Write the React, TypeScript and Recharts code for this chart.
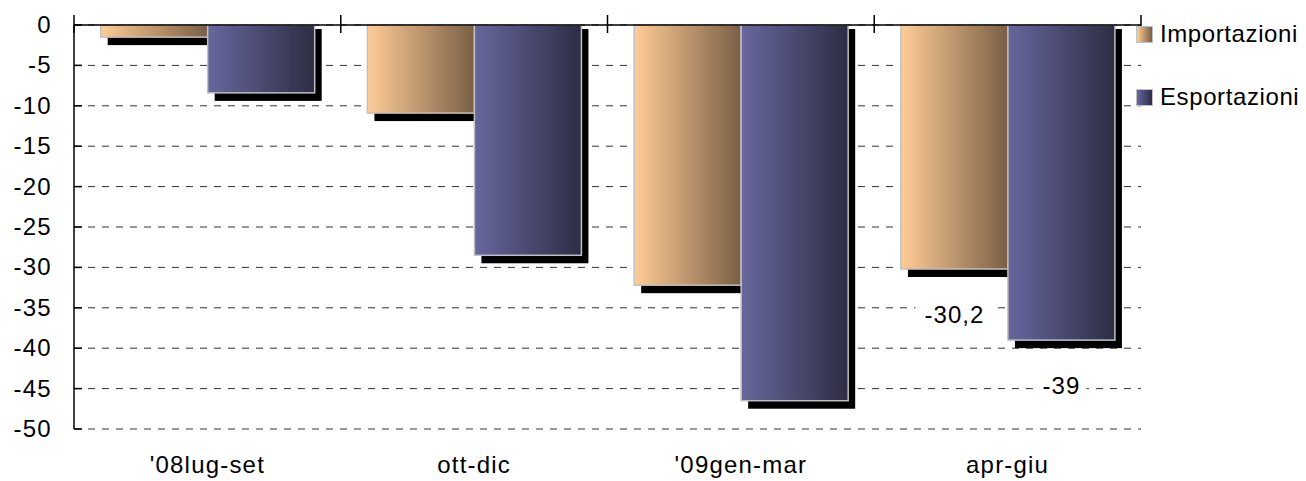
import { BarChart, Bar, XAxis, YAxis, CartesianGrid, LabelList } from 'recharts';

const categories = ["'08lug-set", 'ott-dic', "'09gen-mar", 'apr-giu'];
const importazioni = [-1.5, -10.9, -32.2, -30.2];
const esportazioni = [-8.4, -28.5, -46.5, -39];
const yTicks = [0, -5, -10, -15, -20, -25, -30, -35, -40, -45, -50];
const labelledIndex = 3;

const seriesNames = ['Importazioni', 'Esportazioni'];
const seriesColors = [
  ['#FFCC96', '#7A5F45'],
  ['#67679E', '#2D2D44'],
];

const FONT = '"Liberation Sans", Arial, sans-serif';

const data = categories.map((name, i) => ({
  name,
  imp: importazioni[i],
  exp: esportazioni[i],
}));

function ShadowBar(props: any) {
  const { x, y, width, height, fill } = props;
  const top = Math.min(y, y + height);
  const h = Math.abs(height);
  return (
    <g>
      <rect x={x + 7} y={top + 4} width={width} height={h + 4} fill="#000" />
      <rect x={x} y={top} width={width} height={h} fill={fill} stroke="#C0C0C0" strokeWidth={1.5} />
    </g>
  );
}

function ValueLabel(props: any) {
  const { x, y, width, height, value, index } = props;
  if (index !== labelledIndex) return null;
  const bottom = Math.max(y, y + height);
  const cx = x + width / 2;
  const cy = bottom + 46;
  const text = String(value).replace('.', ',');
  const w = text.length * 14 + 8;
  return (
    <g>
      <rect x={cx - w / 2} y={cy - 14} width={w} height={28} fill="#fff" />
      <text x={cx} y={cy + 8} textAnchor="middle" fontSize={24} fontFamily={FONT} letterSpacing={1} fill="#000">
        {text}
      </text>
    </g>
  );
}

function YTick(props: any) {
  const { x, y, payload } = props;
  return (
    <g>
      <line x1={x} x2={x + 8} y1={y} y2={y} stroke="#000" strokeWidth={1.5} />
      <text x={x - 22} y={y + 8} textAnchor="end" fontSize={24} fontFamily={FONT} letterSpacing={1.3} fill="#000">
        {payload.value}
      </text>
    </g>
  );
}

function CatTick(props: any) {
  const { x, y, payload } = props;
  return (
    <text x={x} y={y + 44} textAnchor="middle" fontSize={24} fontFamily={FONT} letterSpacing={1.2} fill="#000">
      {payload.value}
    </text>
  );
}

// cross tick marks on the category boundaries of the zero line
function CrossTick(props: any) {
  const { x, y, width, index, visibleTicksCount } = props;
  const step = width / visibleTicksCount;
  const xs = [x - step / 2];
  if (index === visibleTicksCount - 1) xs.push(x + step / 2);
  return (
    <g>
      {xs.map((tx) => (
        <line key={tx} x1={tx} x2={tx} y1={y - 10} y2={y + 8} stroke="#000" strokeWidth={1.5} />
      ))}
    </g>
  );
}

export default function App() {
  return (
    <div style={{ position: 'absolute', left: 0, top: 0, width: 1306, height: 481, background: '#fff' }}>
      <BarChart
        width={1306}
        height={481}
        data={data}
        margin={{ top: 24, right: 165, bottom: 0, left: 0 }}
        barCategoryGap="10%"
        barGap={0}
      >
        <defs>
          {seriesColors.map((c, i) => (
            <linearGradient key={i} id={`grad${i}`} x1="0" y1="0" x2="1" y2="0">
              <stop offset="0%" stopColor={c[0]} />
              <stop offset="100%" stopColor={c[1]} />
            </linearGradient>
          ))}
        </defs>
        <CartesianGrid vertical={false} stroke="#333" strokeDasharray="7 7" strokeDashoffset={-14} />
        <YAxis
          width={74}
          domain={[-50, 0]}
          ticks={yTicks}
          interval={0}
          axisLine={{ stroke: '#000', strokeWidth: 1.5 }}
          tickLine={false}
          tickSize={0}
          tickMargin={0}
          tick={<YTick />}
        />
        <Bar dataKey="imp" name={seriesNames[0]} fill="url(#grad0)" shape={<ShadowBar />} isAnimationActive={false}>
          <LabelList dataKey="imp" content={<ValueLabel />} />
        </Bar>
        <Bar dataKey="exp" name={seriesNames[1]} fill="url(#grad1)" shape={<ShadowBar />} isAnimationActive={false}>
          <LabelList dataKey="exp" content={<ValueLabel />} />
        </Bar>
        <XAxis
          dataKey="name"
          height={52}
          axisLine={false}
          tickLine={false}
          tickSize={0}
          tickMargin={0}
          tick={<CatTick />}
          interval={0}
        />
        <XAxis
          xAxisId="top"
          dataKey="name"
          orientation="top"
          height={1}
          axisLine={{ stroke: '#000', strokeWidth: 1.5 }}
          tickLine={false}
          tickSize={0}
          tickMargin={0}
          tick={<CrossTick />}
          interval={0}
        />
      </BarChart>
      {seriesNames.map((name, i) => (
        <div
          key={name}
          style={{
            position: 'absolute',
            left: 1136,
            top: i === 0 ? 20 : 83,
            display: 'flex',
            alignItems: 'center',
            fontFamily: FONT,
            fontSize: 24,
            letterSpacing: 0.6,
            color: '#000',
            whiteSpace: 'nowrap',
          }}
        >
          <span
            style={{
              width: 15,
              height: 15,
              border: '1.5px solid #C0C0C0',
              background: `linear-gradient(to right, ${seriesColors[i][0]}, ${seriesColors[i][1]})`,
              marginRight: 7,
            }}
          />
          {name}
        </div>
      ))}
    </div>
  );
}
